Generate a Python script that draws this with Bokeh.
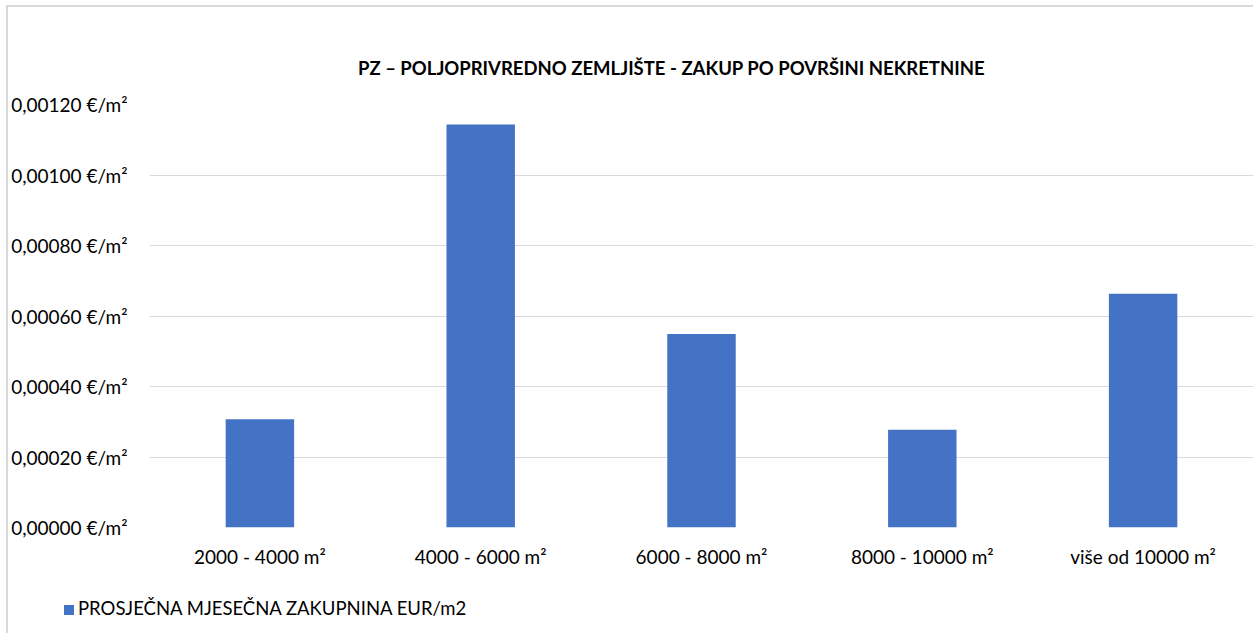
from bokeh.plotting import figure
from bokeh.layouts import column
from bokeh.models import Range1d, CustomJSTickFormatter, FixedTicker, Div
from bokeh.embed import file_html
from bokeh.resources import INLINE

# ---- data ----
categories = ["2000 - 4000 m²", "4000 - 6000 m²", "6000 - 8000 m²",
              "8000 - 10000 m²", "više od 10000 m²"]
rent_eur_m2 = [0.000307, 0.001143, 0.000549, 0.000277, 0.000663]
y_ticks = [0.0, 0.0002, 0.0004, 0.0006, 0.0008, 0.0010, 0.0012]
title_text = "PZ – POLJOPRIVREDNO ZEMLJIŠTE - ZAKUP PO POVRŠINI NEKRETNINE"
series_name = "PROSJEČNA MJESEČNA ZAKUPNINA EUR/m2"

FONT = "Lato"
BAR = "#4472c4"
GRID = "#d9d9d9"
TXT = "#000000"

# title strip above the chart
title_div = Div(text=title_text, width=1245, height=80, margin=0,
                styles={"padding-left": "350px", "padding-top": "50px",
                        "box-sizing": "border-box",
                        "font-family": FONT, "font-size": "18.5px",
                        "font-weight": "bold", "line-height": "22px",
                        "color": TXT, "white-space": "nowrap"})

p = figure(x_range=categories, y_range=Range1d(0, 0.0012),
           width=1245, height=498, output_backend="svg",
           toolbar_location=None, min_border_left=141, min_border_right=0,
           min_border_top=17, min_border_bottom=58,
           background_fill_color="white", border_fill_color="white")
p.outline_line_color = None

r = p.vbar(x=categories, top=rent_eur_m2, width=0.31, fill_color=BAR,
           line_color=None)

# axes
p.yaxis.ticker = FixedTicker(ticks=y_ticks)
p.yaxis.formatter = CustomJSTickFormatter(
    code="return tick.toFixed(5).replace('.', ',') + ' €/m²';")
for ax in (p.xaxis[0], p.yaxis[0]):
    ax.axis_line_color = None
    ax.major_tick_line_color = None
    ax.minor_tick_line_color = None
    ax.major_tick_in = 0
    ax.major_tick_out = 0
    ax.major_label_text_font = FONT
    ax.major_label_text_color = TXT
    ax.major_label_text_font_size = "19px"
p.yaxis.major_label_standoff = 22
p.xaxis.major_label_standoff = 17

p.xgrid.grid_line_color = None
p.ygrid.grid_line_color = GRID
p.ygrid.grid_line_width = 1
p.ygrid.ticker = FixedTicker(ticks=y_ticks)

# legend strip below the chart
legend_html = (
    '<span style="display:inline-block;width:10px;height:10px;'
    f'background:{BAR};margin-right:4px;vertical-align:0px"></span>'
    f'{series_name}'
)
legend_div = Div(text=legend_html, width=1245, height=48, margin=0,
                 styles={"padding-left": "56px", "padding-top": "12px",
                         "box-sizing": "border-box",
                         "font-family": FONT, "font-size": "18.5px",
                         "line-height": "22px", "color": TXT,
                         "white-space": "nowrap"})

layout = column(title_div, p, legend_div, spacing=0)
layout.styles = {"margin-left": "6px", "margin-top": "5px",
                 "border-left": "2px solid #d9d9d9",
                 "border-top": "2px solid #d9d9d9"}

open("out.html", "w").write(file_html(layout, INLINE))
